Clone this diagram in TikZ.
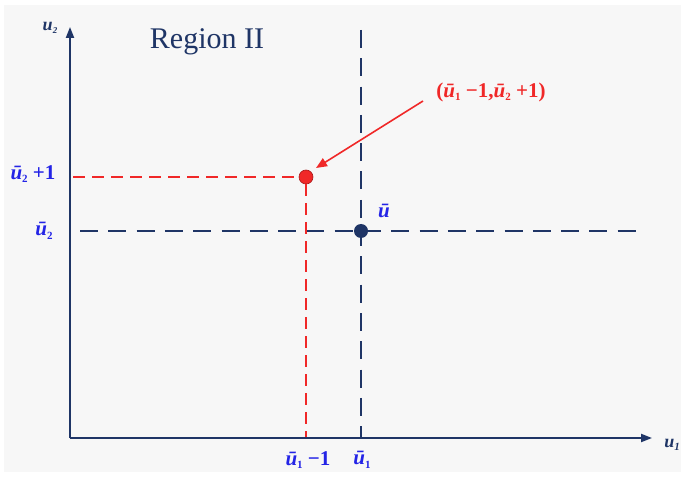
\documentclass[tikz,border=0pt]{standalone}
\usepackage{fontspec}
\setmainfont{Liberation Serif}
\usetikzlibrary{arrows.meta}
\definecolor{navy}{HTML}{1F3566}
\definecolor{lblue}{HTML}{2424E6}
\definecolor{rred}{HTML}{F02828}
\definecolor{bg}{HTML}{F7F7F7}
\newcommand{\ub}[1]{{\bfseries\itshape ū}\raisebox{-0.4ex}{\fontsize{11}{11}\selectfont\bfseries #1}}
\begin{document}
\begin{tikzpicture}[x=1pt,y=-1pt,
  axis/.style={draw=navy,line width=2pt,-{Triangle[length=11pt,width=8pt]}},
  navydash/.style={draw=navy,line width=2.6pt,dash pattern=on 18pt off 10.3pt},
  reddash/.style={draw=rred,line width=1.5pt,dash pattern=on 12pt off 7pt},
  lbl/.style={text=lblue,font=\fontsize{21}{21}\selectfont\bfseries,inner sep=0pt},
  axlbl/.style={text=navy,font=\fontsize{18}{18}\selectfont\bfseries\itshape,inner sep=0pt},
  dot/.style={circle,inner sep=0pt,minimum size=14pt}]
\useasboundingbox (0,0) rectangle (685,478);
\fill[white] (0,0) rectangle (685,478);
\fill[bg] (4,5) rectangle (681,472);
\coordinate (O) at (70,438);
\coordinate (Ytip) at (70,27);
\coordinate (Xtip) at (652,438);
\coordinate (vtop) at (361,30);
\coordinate (vbot) at (361,438);
\coordinate (hl) at (80,231);
\coordinate (hr) at (636,231);
\coordinate (rl) at (73,177);
\coordinate (rb) at (306,438);
\draw[navydash] (vtop) -- (vbot);
\draw[navydash] (hl) -- (hr);
\node[dot,fill=navy] (ubar) at (361,231) {};
\node[dot,fill=rred,draw=rred!70!black,line width=0.6pt] (rdot) at (306,177) {};
\draw[reddash] (rl) -- (rdot.west);
\draw[reddash] (rdot.south) -- (rb);
\draw[axis] (O) -- (Ytip);
\draw[axis] (O) -- (Xtip);
\node[axlbl] (u1) at (672,445) {u\raisebox{-0.35ex}{\fontsize{11}{11}\selectfont 1}};
\node[axlbl] (u2) at (50,28) {u\raisebox{-0.35ex}{\fontsize{9}{9}\selectfont 2}};
\node[text=navy,font=\fontsize{30}{30}\selectfont,inner sep=0pt] (reg) at (207,42) {Region II};
\node[lbl,text=rred] (pt) at (491,92) {(\ub{1} −1,\ub{2} +1)};
\draw[rred,line width=1.6pt,-{Triangle[length=11pt,width=9pt]}] (423,101) -- (316,168);
\node[lbl] (ul) at (384,211) {{\itshape ū}};
\node[lbl] (u2p) at (33,174) {\ub{2} +1};
\node[lbl] (u2l) at (44,231) {\ub{2}};
\node[lbl] (u1m) at (308,460) {\ub{1} −1};
\node[lbl] (u1l) at (362,460) {\ub{1}};
\end{tikzpicture}
\end{document}
